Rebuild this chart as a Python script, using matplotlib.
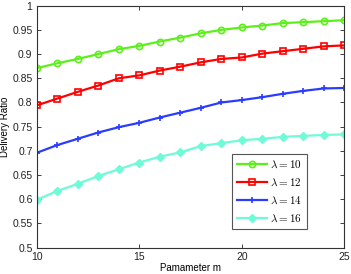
import matplotlib
matplotlib.use("Agg")
import matplotlib.pyplot as plt

plt.rcParams['font.family'] = ['Liberation Sans', 'DejaVu Sans']
plt.rcParams['mathtext.fontset'] = 'cm'

m = list(range(10, 26))

# delivery ratio for each lambda
ratio_10 = [0.871, 0.881, 0.890, 0.900, 0.910, 0.917, 0.926, 0.934,
            0.943, 0.950, 0.955, 0.959, 0.964, 0.966, 0.968, 0.970]
ratio_12 = [0.794, 0.808, 0.822, 0.835, 0.850, 0.856, 0.866, 0.874,
            0.883, 0.890, 0.893, 0.901, 0.906, 0.911, 0.916, 0.918]
ratio_14 = [0.696, 0.712, 0.725, 0.738, 0.749, 0.758, 0.769, 0.779,
            0.789, 0.800, 0.805, 0.811, 0.818, 0.824, 0.829, 0.830]
ratio_16 = [0.599, 0.617, 0.632, 0.648, 0.662, 0.676, 0.688, 0.697,
            0.710, 0.716, 0.722, 0.725, 0.729, 0.731, 0.733, 0.734]

labels = [r'$\lambda = 10$', r'$\lambda = 12$', r'$\lambda = 14$', r'$\lambda = 16$']

fig = plt.figure(figsize=(3.51, 2.74), dpi=100)
ax = fig.add_axes([36.7 / 351, 1 - 247.7 / 274, 307.6 / 351, 242 / 274])

ax.plot(m, ratio_10, color='#5cf01a', lw=1.6, marker='o', ms=4.5,
        mfc='none', mew=1.2, label=labels[0])
ax.plot(m, ratio_12, color='#ff0000', lw=1.6, marker='s', ms=4.5,
        mfc='none', mew=1.2, label=labels[1])
ax.plot(m, ratio_14, color='#2a3cff', lw=1.6, marker='+', ms=5,
        mew=1.2, label=labels[2])
ax.plot(m, ratio_16, color='#6ffbd8', lw=1.6, marker='D', ms=4,
        mew=1.0, label=labels[3])

ax.set_xlim(10, 25)
ax.set_ylim(0.5, 1.0)
ax.set_xticks([10, 15, 20, 25])
ax.set_yticks([0.5, 0.55, 0.6, 0.65, 0.7, 0.75, 0.8, 0.85, 0.9, 0.95, 1])
ax.set_yticklabels(['0.5', '0.55', '0.6', '0.65', '0.7', '0.75', '0.8',
                    '0.85', '0.9', '0.95', '1'])
ax.tick_params(direction='in', top=True, right=True, labelsize=7.5,
               length=3, width=0.6, colors='#222222', pad=3)
for s in ax.spines.values():
    s.set_linewidth(0.8)
    s.set_color('#333333')

ax.set_xlabel('Pamameter m', fontsize=7, labelpad=1)
ax.set_ylabel('Delivery Ratio', fontsize=7, labelpad=2)

leg = ax.legend(loc='lower right', bbox_to_anchor=(0.878, 0.078),
                fontsize=8, fancybox=False, framealpha=1,
                handlelength=2.7, borderpad=0.45, labelspacing=0.6,
                handletextpad=0.3, borderaxespad=0)
leg.get_frame().set_edgecolor('#555555')
leg.get_frame().set_linewidth(0.8)

fig.savefig('out.png', dpi=100)
